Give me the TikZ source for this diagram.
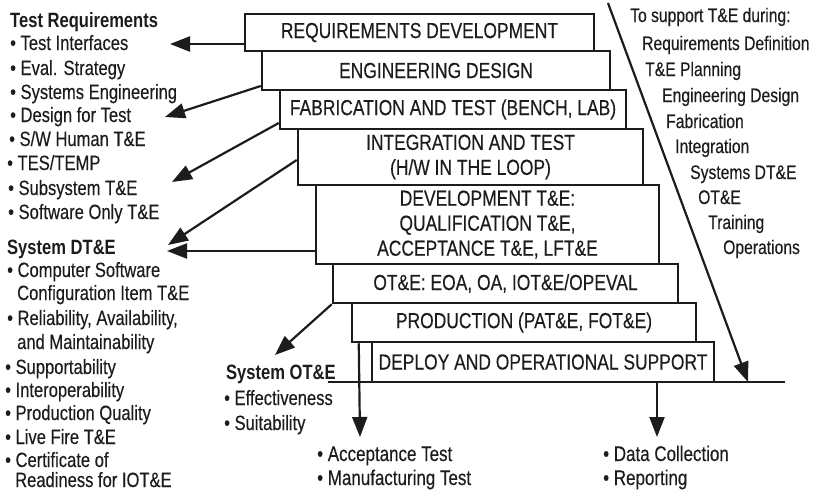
\documentclass[tikz,border=0pt]{standalone}
\usepackage{fontspec}
\setmainfont{Liberation Sans}[FakeStretch=0.8, UprightFeatures={FakeBold=0.3}]
\usetikzlibrary{arrows.meta}
\definecolor{ink}{RGB}{30,27,28}
\begin{document}
\begin{tikzpicture}[x=1pt,y=-1pt,
 stage/.style={draw=ink, line width=2.5pt, inner sep=0pt, align=center, font=\fontsize{21.8}{25}\selectfont, text=ink},
 conn/.style={draw=ink, line width=2.2pt, -{Triangle[length=20pt,width=15pt]}},
 plain/.style={draw=ink, line width=2.5pt},
 lt/.style={anchor=base west, inner sep=0pt, font=\fontsize{20.7}{24}\selectfont, text=ink},
 rt/.style={anchor=base west, inner sep=0pt, font=\fontsize{19.6}{24}\selectfont, text=ink},
 bt/.style={anchor=base west, inner sep=0pt, font=\fontsize{21.2}{24}\selectfont, text=ink},
]
\useasboundingbox (0,0) rectangle (819,491);

% stages
\node[stage, minimum width=349pt, minimum height=37pt] (b1) at (419.5,32.5) {REQUIREMENTS DEVELOPMENT};
\node[stage, minimum width=348pt, minimum height=39pt] (b2) at (436,70.5) {ENGINEERING DESIGN};
\node[stage, minimum width=346pt, minimum height=39pt] (b3) at (453,109.5) {FABRICATION AND TEST (BENCH, LAB)};
\node[stage, minimum width=345pt, minimum height=56pt] (b4) at (470.5,157) {INTEGRATION AND TEST\\(H/W IN THE LOOP)};
\node[stage, minimum width=343pt, minimum height=79pt] (b5) at (487.5,224.5) {DEVELOPMENT T\&E:\\QUALIFICATION T\&E,\\ACCEPTANCE T\&E, LFT\&E};
\node[stage, minimum width=345pt, minimum height=39pt] (b6) at (505.5,283.5) {OT\&E: EOA, OA, IOT\&E/OPEVAL};
\node[stage, minimum width=344pt, minimum height=39pt] (b7) at (524,322.5) {PRODUCTION (PAT\&E, FOT\&E)};
\node[stage, minimum width=342pt, minimum height=40pt] (b8) at (543,362) {DEPLOY AND OPERATIONAL SUPPORT};

% coordinates
\coordinate (t1) at (170,44);
\coordinate (t2) at (165,117);
\coordinate (t3) at (172,182);
\coordinate (t4) at (168,245);
\coordinate (t5) at (167,251);
\coordinate (t6) at (275,355);
\coordinate (t7) at (360,437);
\coordinate (t8) at (657,437);
\coordinate (bl1) at (328,382);
\coordinate (bl2) at (785,382);
\coordinate (d1) at (608,3);
\coordinate (d2) at (748,382);

% connectors
\draw[conn] ([yshift=-11.5pt]b1.west) -- (t1);
\draw[conn] ([yshift=-15.5pt]b2.west) -- (t2);
\draw[conn] ([yshift=-13.5pt]b3.west) -- (t3);
\draw[conn] ([yshift=-3pt]b4.west) -- (t4);
\draw[conn] ([yshift=-26.5pt]b5.west) -- (t5);
\draw[conn] (b6.south west) -- (t6);
\draw[conn] ([xshift=8pt]b7.south west) -- (t7);
\draw[conn] ([xshift=114pt]b8.south) -- (t8);
\draw[plain] (bl1) -- (bl2);
\draw[conn] (d1) -- (d2);

% left list
\node[lt] (h1) at (10,27) {\bfseries Test Requirements};
\node[lt] (l1) at (10,50) {• Test Interfaces};
\node[lt] (l2) at (10,75) {• Eval. Strategy};
\node[lt] (l3) at (10,99) {• Systems Engineering};
\node[lt] (l4) at (10,122) {• Design for Test};
\node[lt] (l5) at (9,146) {• S/W Human T\&E};
\node[lt] (l6) at (7,170) {• TES/TEMP};
\node[lt] (l7) at (8,195) {• Subsystem T\&E};
\node[lt] (l8) at (8,219) {• Software Only T\&E};
\node[lt] (h2) at (7,254) {\bfseries System DT\&E};
\node[lt] (m1) at (7,277) {• Computer Software};
\node[lt] (m1b) at (17,300) {Configuration Item T\&E};
\node[lt] (m2) at (7,325) {• Reliability, Availability,};
\node[lt] (m2b) at (17,349) {and Maintainability};
\node[lt] (m3) at (5,374) {• Supportability};
\node[lt] (m4) at (5,397) {• Interoperability};
\node[lt] (m5) at (5,420) {• Production Quality};
\node[lt] (m6) at (5,444) {• Live Fire T\&E};
\node[lt] (m7) at (5,467) {• Certificate of};
\node[lt] (m7b) at (15,487) {Readiness for IOT\&E};

% system OT&E
\node[lt] (h3) at (226,379) {\bfseries System OT\&E};
\node[lt] (s1) at (224,405) {• Effectiveness};
\node[lt] (s2) at (224,430) {• Suitability};

% bottom lists
\node[bt] (p1) at (317,461) {• Acceptance Test};
\node[bt] (p2) at (317,485) {• Manufacturing Test};
\node[bt] (q1) at (603,461) {• Data Collection};
\node[bt] (q2) at (603,485) {• Reporting};

% right list
\node[rt] (r0) at (630,22) {To support T\&E during:};
\node[rt] (r1) at (642,50) {Requirements Definition};
\node[rt] (r2) at (645,76) {T\&E Planning};
\node[rt] (r3) at (662,102) {Engineering Design};
\node[rt] (r4) at (666,128) {Fabrication};
\node[rt] (r5) at (675,153) {Integration};
\node[rt] (r6) at (690,179) {Systems DT\&E};
\node[rt] (r7) at (698,204) {OT\&E};
\node[rt] (r8) at (708,229) {Training};
\node[rt] (r9) at (723,254) {Operations};
\end{tikzpicture}
\end{document}
